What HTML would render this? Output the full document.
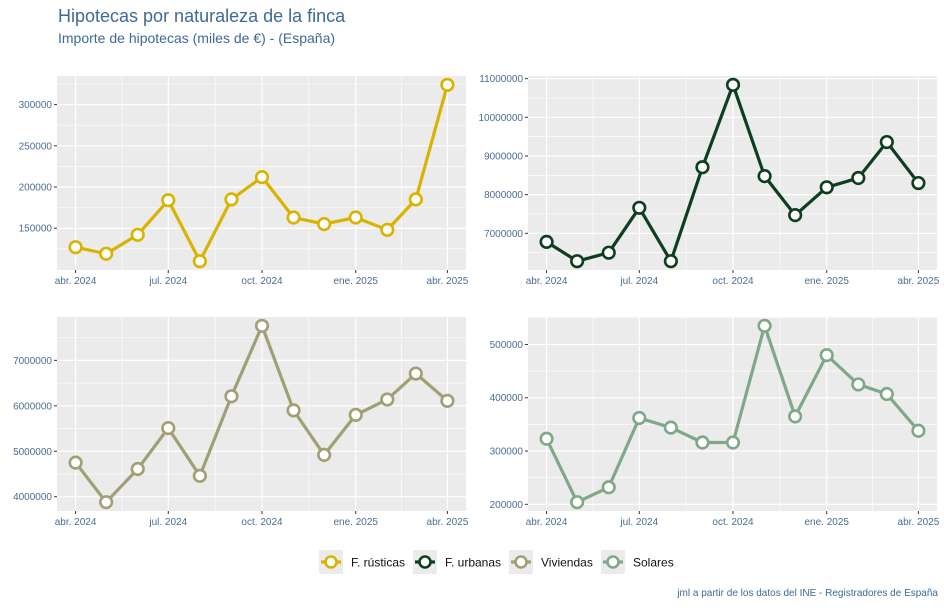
<!DOCTYPE html>
<html><head><meta charset="utf-8"><style>
body{margin:0;background:#fff;width:944px;height:607px;overflow:hidden;font-family:"Liberation Sans",sans-serif}
svg text{font-family:"Liberation Sans",sans-serif}
</style></head><body>
<svg id="c" width="944" height="607" viewBox="0 0 944 607">
<text x="58" y="22" font-size="18" fill="#3d6a96">Hipotecas por naturaleza de la finca</text>
<text x="58" y="43" font-size="14" fill="#3d6a96">Importe de hipotecas (miles de €) - (España)</text>
<text x="938" y="596" font-size="10" fill="#3d6a96" text-anchor="end">jml a partir de los datos del INE - Registradores de España</text>
</svg>
<script>
const monthDays=[0,30,61,91,122,153,183,214,244,275,306,334,365];
const xTickLabels=["abr. 2024","jul. 2024","oct. 2024","ene. 2025","abr. 2025"];
const xTickDays=[0,91,183,275,365];
const rusticas=[127000,119000,142000,184000,110000,185000,212000,163000,155000,163000,148000,185000,324000];
const urbanas=[6780000,6280000,6500000,7660000,6280000,8710000,10840000,8480000,7470000,8190000,8430000,9360000,8300000];
const viviendas=[4750000,3880000,4610000,5510000,4460000,6210000,7760000,5900000,4920000,5800000,6140000,6710000,6110000];
const solares=[323000,204000,232000,362000,344000,316000,316000,535000,365000,480000,425000,407000,338000];
const ticksRusticas=[150000,200000,250000,300000];
const ticksUrbanas=[7000000,8000000,9000000,10000000,11000000];
const ticksViviendas=[4000000,5000000,6000000,7000000];
const ticksSolares=[200000,300000,400000,500000];
const seriesNames=["F. rústicas","F. urbanas","Viviendas","Solares"];
const colors=["#d8b300","#0c3f1f","#a0a074","#7ea888"];
const NS="http://www.w3.org/2000/svg";
const svg=document.getElementById('c');
function mk(tag,attrs,parent){const e=document.createElementNS(NS,tag);for(const k in attrs)e.setAttribute(k,attrs[k]);(parent||svg).appendChild(e);return e;}
function panel(key,vals,ticks,L,R,T,B,color){
  const g=mk('g',{});
  
  
  const mn=Math.min(...vals),mx=Math.max(...vals),pad=(mx-mn)*0.05;
  const lo=mn-pad,hi=mx+pad;
  const y=v=>B-(v-lo)/(hi-lo)*(B-T);
  const dspan=365*1.1,d0=-365*0.05;
  const x=d=>L+(d-d0)/dspan*(R-L);
  mk('rect',{x:L,y:T,width:R-L,height:B-T,fill:'#ebebeb'},g);
  const step=ticks[1]-ticks[0];
  for(let i=-1;i<ticks.length;i++){const v=ticks[0]+step*(i+0.5);const yy=y(v);if(yy>T&&yy<B)mk('line',{x1:L,x2:R,y1:yy,y2:yy,stroke:'#fff','stroke-width':0.6},g);}
  for(let i=0;i<xTickDays.length-1;i++){const xx=x((xTickDays[i]+xTickDays[i+1])/2);mk('line',{x1:xx,x2:xx,y1:T,y2:B,stroke:'#fff','stroke-width':0.6},g);}
  ticks.forEach(t=>{const yy=y(t);mk('line',{x1:L,x2:R,y1:yy,y2:yy,stroke:'#fff','stroke-width':1.2},g);
    mk('line',{x1:L-3,x2:L,y1:yy,y2:yy,stroke:'#333','stroke-width':1},g);
    const tx=mk('text',{x:L-5,y:yy+3.5,'font-size':10,fill:'#4a6d94','text-anchor':'end'},g);tx.textContent=t;
    
    });
  xTickDays.forEach((d,i)=>{const xx=x(d);mk('line',{x1:xx,x2:xx,y1:T,y2:B,stroke:'#fff','stroke-width':1.2},g);
    mk('line',{x1:xx,x2:xx,y1:B,y2:B+3,stroke:'#333','stroke-width':1},g);
    const tx=mk('text',{x:xx,y:B+14,'font-size':10,fill:'#4a6d94','text-anchor':'middle'},g);tx.textContent=xTickLabels[i];
    
    });
  const pts=vals.map((v,i)=>x(monthDays[i])+','+y(v)).join(' ');
  const pl=mk('polyline',{points:pts,fill:'none',stroke:color,'stroke-width':3.2,'stroke-linejoin':'round'},g);
  
  
  vals.forEach((v,i)=>{const c=mk('circle',{cx:x(monthDays[i]),cy:y(v),r:5.8,fill:'#fff',stroke:color,'stroke-width':2.6},g);
    
    });
}
panel('rusticas',rusticas,ticksRusticas,57,466,76,270,colors[0]);
panel('urbanas',urbanas,ticksUrbanas,528,937,76,270,colors[1]);
panel('viviendas',viviendas,ticksViviendas,57,466,317,511,colors[2]);
panel('solares',solares,ticksSolares,528,937,317,511,colors[3]);
const lx=[319,413,509,601];
seriesNames.forEach((n,i)=>{
  const g=mk('g',{});
  
  
  mk('rect',{x:lx[i],y:550,width:24,height:24,fill:'#ebebeb'},g);
  mk('line',{x1:lx[i]+2,x2:lx[i]+22,y1:562,y2:562,stroke:colors[i],'stroke-width':3.2},g);
  mk('circle',{cx:lx[i]+12,cy:562,r:5.5,fill:'#fff',stroke:colors[i],'stroke-width':2.6},g);
  const t=mk('text',{x:lx[i]+32,y:566.5,'font-size':12,fill:'#111'},g);t.textContent=n;
});
</script>
</body></html>
